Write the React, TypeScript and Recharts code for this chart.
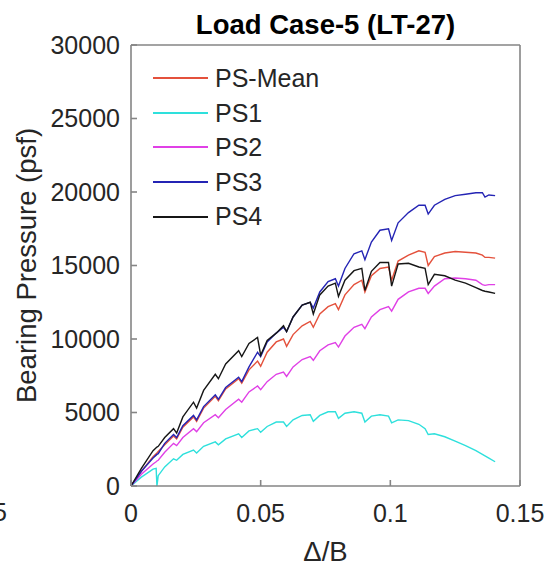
import { LineChart, Line, XAxis, YAxis, Legend } from 'recharts'

// displacement ratio, shared by all five sensors
const deltaB = [
  0, 0.004, 0.0085, 0.0097, 0.01, 0.0105, 0.013, 0.0164, 0.0176, 0.02,
  0.0241, 0.0253, 0.028, 0.0325, 0.0337, 0.0365, 0.0415, 0.0427, 0.0455, 0.0488,
  0.05, 0.0525, 0.056, 0.0588, 0.06, 0.0625, 0.066, 0.0691, 0.0703, 0.0728,
  0.076, 0.0788, 0.08, 0.0825, 0.086, 0.089, 0.0902, 0.0927, 0.096, 0.0993,
  0.1005, 0.103, 0.107, 0.111, 0.1134, 0.1146, 0.117, 0.121, 0.125, 0.129,
  0.133, 0.1355, 0.1365, 0.138, 0.1404,
]

const psMean = [
  0, 1000, 2000, 2200, 2250, 2350, 2800, 3400, 3200, 4000,
  4700, 4400, 5300, 6100, 5800, 6600, 7300, 7000, 7900, 8500,
  8150, 9100, 9800, 10000, 9500, 10300, 10900, 11200, 10800, 11700,
  12200, 12400, 12000, 13000, 13700, 14000, 13200, 14300, 14800, 14900,
  14000, 15300, 15700, 16000, 15900, 15000, 15600, 15850, 15950, 15900,
  15850, 15700, 15550, 15550, 15500,
]

const ps1 = [
  0, 600, 1150, 1200, 0, 700, 1300, 1850, 1750, 2150,
  2450, 2250, 2700, 3000, 2800, 3200, 3550, 3300, 3750, 3900,
  3650, 4050, 4350, 4350, 4050, 4500, 4800, 4850, 4400, 4800,
  5050, 5050, 4600, 4950, 5050, 4950, 4350, 4750, 4850, 4750,
  4300, 4500, 4450, 4200, 3900, 3500, 3550, 3350, 3050, 2750,
  2400, 2150, 2050, 1900, 1650,
]

const ps2 = [
  0, 800, 1500, 1650, 1700, 1750, 2300, 2900, 2750, 3300,
  3900, 3700, 4300, 4850, 4650, 5200, 5900, 5700, 6400, 6800,
  6550, 7100, 7600, 7750, 7450, 8100, 8600, 8800, 8550, 9200,
  9600, 9750, 9450, 10200, 10800, 11000, 10700, 11500, 12000, 12200,
  11900, 12700, 13200, 13450, 13450, 13100, 13600, 14100, 14150, 14100,
  14000, 13700, 13650, 13700, 13700,
]

const ps3 = [
  0, 1000, 1900, 2100, 2150, 2200, 2900, 3500, 3300, 4100,
  4800, 4500, 5400, 6200, 5900, 6700, 7400, 7100, 8100, 9100,
  8800, 9800, 10400, 10800, 10500, 11500, 12300, 12500, 12100, 13200,
  13900, 14100, 13600, 14800, 15800, 16000, 15400, 16600, 17400, 17500,
  16700, 17900, 18600, 19100, 19100, 18500, 19100, 19500, 19750, 19850,
  19950, 19950, 19650, 19800, 19750,
]

const ps4 = [
  0, 1200, 2400, 2600, 2650, 2700, 3300, 3900, 3600, 4700,
  5700, 5300, 6500, 7600, 7300, 8300, 9200, 8800, 9700, 10100,
  8900, 9900, 10400, 10900, 10500, 11500, 12300, 12500, 11700, 13000,
  13600, 13800, 12900, 14000, 14650, 14800, 13300, 14600, 15200, 15200,
  13600, 15100, 15150, 14900, 14800, 13700, 14400, 14300, 14000, 13800,
  13500, 13300, 13250, 13200, 13100,
]

const xTicks = [0, 0.05, 0.1, 0.15]
const yTicks = [0, 5000, 10000, 15000, 20000, 25000, 30000]

const series = [
  { key: 'psMean', name: 'PS-Mean', color: '#e4513c' },
  { key: 'ps1', name: 'PS1', color: '#2ee0dc' },
  { key: 'ps2', name: 'PS2', color: '#e040e6' },
  { key: 'ps3', name: 'PS3', color: '#2424b4' },
  { key: 'ps4', name: 'PS4', color: '#161616' },
]

const data = deltaB.map((x, i) => ({
  x,
  psMean: psMean[i],
  ps1: ps1[i],
  ps2: ps2[i],
  ps3: ps3[i],
  ps4: ps4[i],
}))

const FONT = '"Liberation Sans", Arial, Helvetica, sans-serif'
const AXIS = '#858585'
const TEXT = '#262626'

function LegendRows({ payload }: any) {
  return (
    <div style={{ fontFamily: FONT, fontSize: 25, lineHeight: '34.6px', color: TEXT }}>
      {(payload || []).map((p: any) => (
        <div key={p.value} style={{ display: 'flex', alignItems: 'center' }}>
          <span style={{ display: 'inline-block', width: 55, borderTop: `2px solid ${p.color}`, marginRight: 7 }} />
          <span>{p.value}</span>
        </div>
      ))}
    </div>
  )
}

export default function App() {
  return (
    <div style={{ position: 'absolute', left: 0, top: 0, width: 546, height: 566, background: '#fff', fontFamily: FONT }}>
      <div
        style={{
          position: 'absolute', left: 131, top: 11, width: 389, textAlign: 'center',
          fontSize: 27.5, lineHeight: '27.5px', fontWeight: 'bold', color: '#000',
        }}
      >
        Load Case-5 (LT-27)
      </div>
      {/* tail of the neighbouring panel's tick label */}
      <div style={{ position: 'absolute', left: -60, top: 500, width: 67, textAlign: 'right', fontSize: 25, lineHeight: '25px', color: TEXT }}>
        0.15
      </div>
      <LineChart width={546} height={566} data={data} margin={{ top: 44, right: 25, bottom: 0, left: 0 }}>
        <XAxis
          dataKey="x"
          type="number"
          domain={[0, 0.15]}
          ticks={xTicks}
          height={80}
          tickSize={-6}
          tickMargin={24}
          stroke={AXIS}
          strokeWidth={1.6}
          tick={{ fill: TEXT, fontSize: 25, fontFamily: FONT }}
          label={{ value: 'Δ/B', position: 'insideBottom', offset: 5, style: { fill: TEXT, fontSize: 27.5, fontFamily: FONT } }}
        />
        <XAxis
          xAxisId="top"
          orientation="top"
          type="number"
          domain={[0, 0.15]}
          ticks={xTicks}
          height={1}
          tickSize={-6}
          tick={false}
          stroke={AXIS}
          strokeWidth={1.6}
        />
        <YAxis
          type="number"
          domain={[0, 30000]}
          ticks={yTicks}
          width={131}
          tickSize={-6}
          tickMargin={17}
          stroke={AXIS}
          strokeWidth={1.6}
          tick={{ fill: TEXT, fontSize: 25, fontFamily: FONT }}
          label={{
            value: 'Bearing Pressure (psf)', angle: -90, position: 'insideLeft', offset: 26,
            style: { textAnchor: 'middle', fill: TEXT, fontSize: 27.5, fontFamily: FONT },
          }}
        />
        <YAxis
          yAxisId="right"
          orientation="right"
          type="number"
          domain={[0, 30000]}
          ticks={yTicks}
          width={1}
          tickSize={-6}
          tick={false}
          stroke={AXIS}
          strokeWidth={1.6}
        />
        <Legend
          layout="horizontal"
          verticalAlign="middle"
          align="center"
          content={<LegendRows />}
          wrapperStyle={{ left: 153, top: 61, width: 'auto' }}
        />
        {series.map(s => (
          <Line
            key={s.key}
            type="linear"
            dataKey={s.key}
            name={s.name}
            stroke={s.color}
            strokeWidth={1.4}
            dot={false}
            isAnimationActive={false}
          />
        ))}
      </LineChart>
    </div>
  )
}
